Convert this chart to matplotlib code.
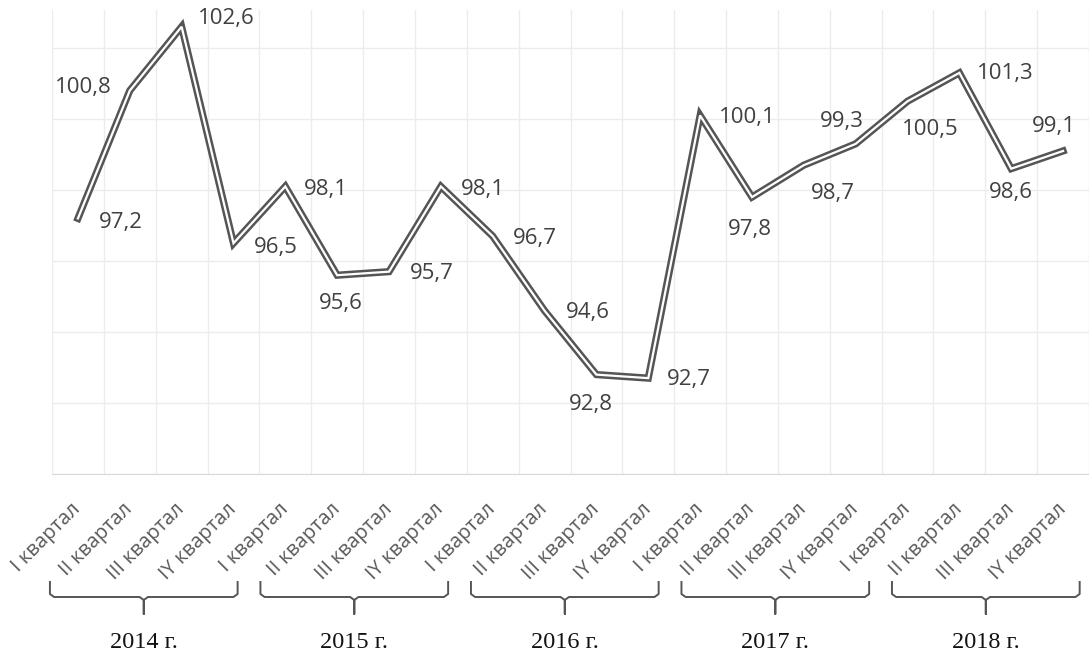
import matplotlib.pyplot as plt
import matplotlib.transforms as mtransforms

# данные
years = ['2014 г.', '2015 г.', '2016 г.', '2017 г.', '2018 г.']
quarters = ['I квартал', 'II квартал', 'III квартал', 'IY квартал']
values = [97.2, 100.8, 102.6, 96.5,
          98.1, 95.6, 95.7, 98.1,
          96.7, 94.6, 92.8, 92.7,
          100.1, 97.8, 98.7, 99.3,
          100.5, 101.3, 98.6, 99.1]

# смещения подписей (пиксели, вниз положительно как на картинке)
label_off = [(43, 4), (-46, -3), (45, -8), (42, 4),
             (41, 3), (4, 28), (43, 2), (42, 3),
             (42, 2), (43, 2), (-6, 30), (41, 1),
             (47, 2), (-2, 32), (29, 28), (-14, -22),
             (23, 28), (46, 1), (0, 24), (-9, -24)]

W, H = 1089, 657
fig = plt.figure(figsize=(W / 100, H / 100), dpi=100)
ax = fig.add_axes([52 / W, 1 - 474 / H, (W - 52) / W, (474 - 10) / H])

x = list(range(len(values)))
ax.plot(x, values, color='#555555', lw=5.2, solid_joinstyle='miter', zorder=3)
ax.plot(x, values, color='white', lw=1.6, solid_joinstyle='miter', zorder=4)

for xi, v, (dx, dy) in zip(x, values, label_off):
    ax.annotate(f'{v:.1f}'.replace('.', ','), (xi, v), xytext=(dx, -dy),
                textcoords='offset pixels', ha='center', va='center',
                fontsize=16, family='Open Sans', color='#404040', zorder=5)

ax.set_xlim(-0.5, 19.4)
ax.set_ylim(90, 90 + 464 / 35.5)
ax.set_yticks(range(90, 104, 2))
ax.set_yticklabels([])
ax.set_xticks([k + 0.5 for k in range(-1, 20)], minor=True)
ax.set_xticks(x)
ax.set_xticklabels(quarters * len(years))
ax.grid(True, which='minor', axis='x', color='#ececec', lw=1)
ax.grid(True, which='major', axis='y', color='#ececec', lw=1)
ax.tick_params(which='both', length=0)
ax.tick_params(axis='x', pad=23, labelsize=14.5, labelcolor='#595959')
for t in ax.get_xticklabels():
    t.set_rotation(45)
    t.set_ha('right')
    t.set_va('center')
    t.set_rotation_mode('anchor')
    t.set_family('Open Sans')
for s in ['top', 'right', 'left']:
    ax.spines[s].set_visible(False)
ax.spines['bottom'].set_color('#d9d9d9')

# скобки под годами
tr = mtransforms.blended_transform_factory(ax.transData, fig.transFigure)
def fy(py):
    return 1 - py / H

for i, yr in enumerate(years):
    x0 = i * 4.06 - 0.54
    x1 = x0 + 3.62
    xc = (x0 + x1) / 2
    bx = [x0, x0, x0 + 0.08, xc - 0.08, xc, xc, xc, xc + 0.08, x1 - 0.08, x1, x1]
    by = [582, 594, 597, 597, 600, 614, 600, 597, 597, 594, 582]
    ax.plot(bx, [fy(p) for p in by], color='#555555', lw=1.4, transform=tr,
            clip_on=False)
    ax.text(xc, fy(643), yr, transform=tr, ha='center', va='center',
            fontsize=17.5, family='Liberation Serif', color='#111111')

fig.savefig('out.png', dpi=100)
